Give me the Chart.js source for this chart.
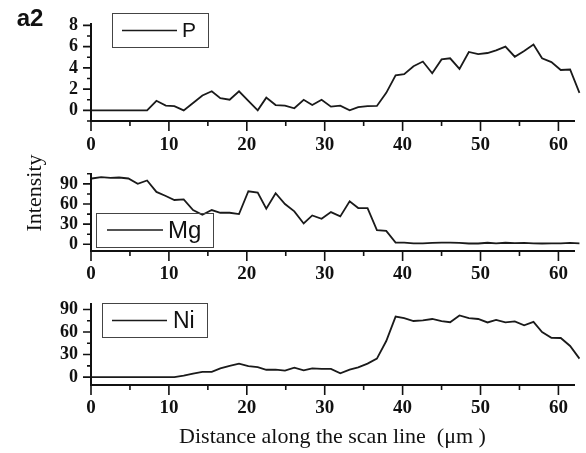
<!DOCTYPE html>
<html>
<head>
<script src="https://cdn.jsdelivr.net/npm/chart.js@4.4.0/dist/chart.umd.min.js"></script>
<style>
body { margin: 0; background: #fff; }
.wrap { position: relative; width: 586px; height: 453px; }
canvas { position: absolute; left: 0; }
</style>
</head>
<body>
<div class="wrap">
  <canvas id="pChart" width="586" height="160" style="top:0px"></canvas>
  <canvas id="mgChart" width="586" height="140" style="top:150px"></canvas>
  <canvas id="niChart" width="586" height="173" style="top:280px"></canvas>
</div>
<script>
// scan positions (um)
const distance = [0.1, 1.3, 2.5, 3.6, 4.8, 6.0, 7.2, 8.4, 9.6, 10.7, 11.9, 13.1, 14.3, 15.5, 16.6, 17.8,
  19.0, 20.2, 21.4, 22.5, 23.7, 24.9, 26.1, 27.3, 28.4, 29.6, 30.8, 32.0, 33.2, 34.3, 35.5, 36.7,
  37.9, 39.1, 40.2, 41.4, 42.6, 43.8, 45.0, 46.1, 47.3, 48.5, 49.7, 50.9, 52.0, 53.2, 54.4, 55.6,
  56.8, 57.9, 59.1, 60.3, 61.5, 62.7];

const pValues = [0, 0, 0, 0, 0, 0, 0, 0.9, 0.45, 0.4, 0, 0.7, 1.4, 1.8, 1.15, 1.0,
  1.8, 0.9, 0, 1.2, 0.5, 0.45, 0.2, 1.0, 0.5, 1.0, 0.35, 0.45, 0, 0.3, 0.4, 0.42,
  1.65, 3.3, 3.4, 4.15, 4.6, 3.5, 4.8, 4.9, 3.9, 5.5, 5.3, 5.4, 5.65, 6.0, 5.05, 5.6,
  6.2, 4.9, 4.55, 3.8, 3.85, 1.65];

const mgValues = [98, 100, 99, 99.5, 98, 90, 95, 78, 72, 66, 67, 51, 44, 51, 47, 47,
  45, 79, 77, 53, 76, 60, 49, 31, 43, 38, 48, 41.5, 64, 54, 54, 21,
  20, 2.5, 2.5, 1.5, 1.5, 2, 2.5, 2.5, 2.2, 1.2, 1.2, 2.3, 1.3, 2.3, 1.6, 2,
  1.5, 1.2, 1.5, 1.5, 2.2, 1.5];

const niValues = [0, 0, 0, 0, 0, 0, 0, 0, 0, 0, 2, 4.7, 7, 7, 11.7, 14.8,
  18, 14.5, 13.3, 9.8, 10, 8.6, 12.5, 9, 11.7, 11, 11, 5, 10, 13, 18, 24.6,
  48, 80.5, 78.5, 74.6, 75.4, 77.3, 74.6, 73, 82, 78.5, 77.3, 72.7, 76, 72.7, 74.2, 69,
  73.4, 59.8, 52.3, 52, 41.4, 24.6];

// tick positions (major + minor) and which of them carry a label
const xTicks = [0, 5, 10, 15, 20, 25, 30, 35, 40, 45, 50, 55, 60];
const xTickLabels = [0, 10, 20, 30, 40, 50, 60];
const pTicks = [-1, 0, 1, 2, 3, 4, 5, 6, 7, 8];
const pTickLabels = [0, 2, 4, 6, 8];
const mgTicks = [0, 15, 30, 45, 60, 75, 90, 105];
const mgTickLabels = [0, 30, 60, 90];
const niTicks = [0, 15, 30, 45, 60, 75, 90];
const niTickLabels = [0, 30, 60, 90];

const serif = '"Liberation Serif", "Times New Roman", serif';
const sans = '"Liberation Sans", Arial, sans-serif';

// ticks, legend box and loose texts
const decor = {
  id: 'decor',
  afterDraw(chart, args, opts) {
    const ctx = chart.ctx;
    const area = chart.chartArea;
    const xs = chart.scales.x, ys = chart.scales.y;
    ctx.save();
    ctx.strokeStyle = '#111';
    ctx.lineWidth = 1.6;
    ctx.beginPath();
    xs.ticks.forEach(t => {
      const px = xs.getPixelForValue(t.value);
      const len = xTickLabels.includes(t.value) ? 10 : 5;
      ctx.moveTo(px, area.bottom);
      ctx.lineTo(px, area.bottom + len);
    });
    ys.ticks.forEach(t => {
      const py = ys.getPixelForValue(t.value);
      const len = opts.yLabels.includes(t.value) ? 8 : 4;
      ctx.moveTo(area.left, py);
      ctx.lineTo(area.left - len, py);
    });
    ctx.stroke();

    const lg = opts.legend;
    ctx.lineWidth = 1;
    ctx.strokeStyle = '#444';
    ctx.strokeRect(lg.box[0] + 0.5, lg.box[1] + 0.5, lg.box[2], lg.box[3]);
    ctx.lineWidth = 1.6;
    ctx.strokeStyle = chart.data.datasets[0].borderColor;
    ctx.beginPath();
    ctx.moveTo(lg.line[0], lg.line[2]);
    ctx.lineTo(lg.line[1], lg.line[2]);
    ctx.stroke();
    ctx.fillStyle = '#111';
    ctx.font = lg.font;
    ctx.textAlign = 'left';
    ctx.textBaseline = 'middle';
    ctx.fillText(chart.data.datasets[0].label, lg.textX, lg.line[2] + 1);

    (opts.texts || []).forEach(t => {
      ctx.save();
      ctx.font = t.font;
      ctx.fillStyle = '#111';
      ctx.textAlign = 'center';
      ctx.textBaseline = 'middle';
      ctx.translate(t.x, t.y);
      if (t.rotate) ctx.rotate(t.rotate);
      ctx.fillText(t.text, 0, 0);
      ctx.restore();
    });
    ctx.restore();
  }
};

function makePanel(id, label, values, cfg) {
  return new Chart(document.getElementById(id), {
    type: 'line',
    data: {
      datasets: [{
        label: label,
        data: distance.map((d, i) => ({ x: d, y: values[i] })),
        borderColor: '#1a1a1a',
        borderWidth: 1.8,
        pointRadius: 0,
        tension: 0,
        clip: false
      }]
    },
    options: {
      responsive: false,
      animation: false,
      devicePixelRatio: 1,
      layout: { padding: { left: 0, right: 12, top: cfg.padTop, bottom: 0 } },
      plugins: {
        legend: { display: false },
        tooltip: { enabled: false },
        decor: { legend: cfg.legend, yLabels: cfg.yLabels, texts: cfg.texts }
      },
      scales: {
        x: {
          type: 'linear',
          min: 0,
          max: 62,
          grid: { display: false, drawTicks: false },
          border: { display: true, color: '#111', width: 2 },
          afterFit: s => { s.height = cfg.xHeight; },
          afterBuildTicks: s => { s.ticks = xTicks.map(v => ({ value: v })); },
          ticks: {
            padding: cfg.xPad,
            color: '#111',
            autoSkip: false,
            maxRotation: 0,
            font: { family: serif, size: 19, weight: 'bold' },
            callback: v => xTickLabels.includes(v) ? String(v) : ''
          },
          title: cfg.xTitle || { display: false }
        },
        y: {
          min: cfg.yMin,
          max: cfg.yMax,
          grid: { display: false, drawTicks: false },
          border: { display: true, color: '#111', width: 2 },
          afterFit: s => { s.width = 91; },
          afterBuildTicks: s => { s.ticks = cfg.yTicks.map(v => ({ value: v })); },
          ticks: {
            padding: 13,
            color: '#111',
            autoSkip: false,
            font: { family: serif, size: 18, weight: 'bold' },
            callback: v => cfg.yLabels.includes(v) ? String(v) : ''
          }
        }
      }
    },
    plugins: [decor]
  });
}

makePanel('pChart', 'P', pValues, {
  padTop: 17, xHeight: 39, xPad: 13, yMin: -1, yMax: 8.15, yTicks: pTicks, yLabels: pTickLabels,
  legend: { box: [112, 13, 96, 34], line: [122, 177, 30.5], textX: 182, font: '21px ' + sans },
  texts: [{ text: 'a2', x: 30, y: 19, font: 'bold 24px ' + sans }]
});

makePanel('mgChart', 'Mg', mgValues, {
  padTop: 12, xHeight: 39, xPad: 12, yMin: -10, yMax: 105, yTicks: mgTicks, yLabels: mgTickLabels,
  legend: { box: [96, 63, 117, 34], line: [107, 163, 80], textX: 168, font: '24px ' + sans },
  texts: [{ text: 'Intensity', x: 35, y: 43, font: '22px ' + serif, rotate: -Math.PI / 2 }]
});

makePanel('niChart', 'Ni', niValues, {
  padTop: 13, xHeight: 68, xPad: 12, yMin: -10.5, yMax: 97.5, yTicks: niTicks, yLabels: niTickLabels,
  legend: { box: [102, 23, 105, 34], line: [112, 167, 40.5], textX: 173, font: '23px ' + sans },
  xTitle: {
    display: true,
    text: 'Distance along the scan line  (\u03bcm )',
    color: '#111',
    font: { family: serif, size: 22 },
    padding: { top: 0, bottom: 3 }
  }
});
</script>
</body>
</html>
